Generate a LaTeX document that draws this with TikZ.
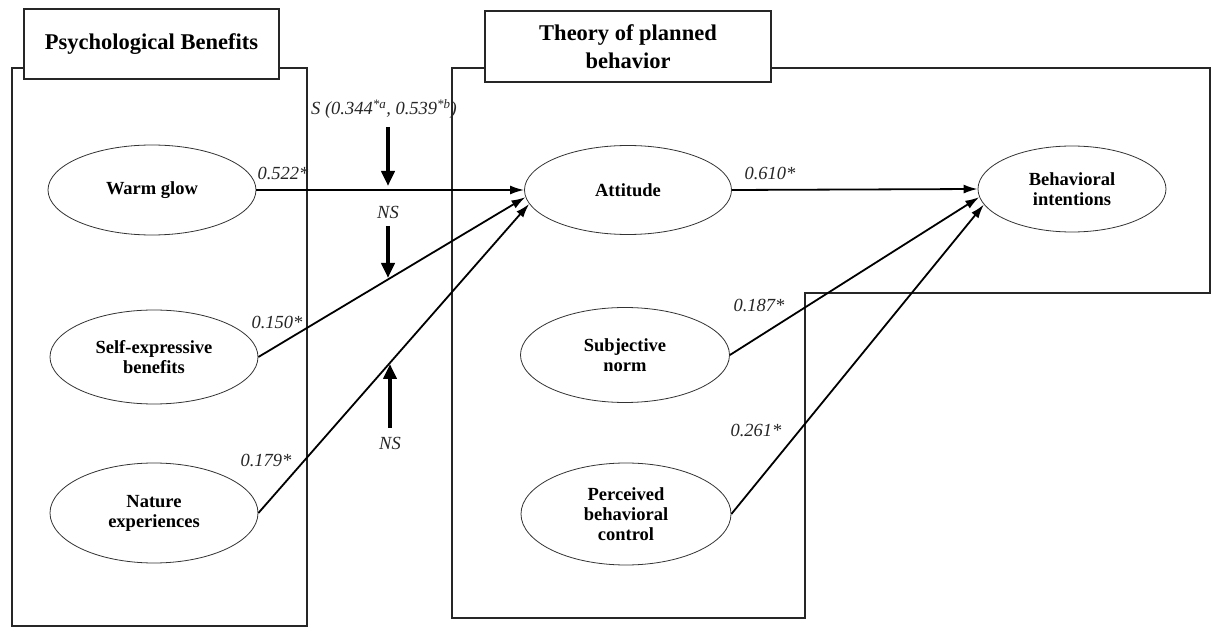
\documentclass[tikz,border=0pt]{standalone}
\usepackage{fontspec}
\setmainfont{Liberation Serif}
\usetikzlibrary{arrows.meta,shapes.geometric}
\begin{document}
\begin{tikzpicture}[x=1pt,y=-1pt,
  frame/.style={draw=black!85, line width=1.1pt},
  titlebox/.style={draw=black!85, line width=1.1pt, fill=white, align=center, inner sep=0pt,
    font=\fontsize{22.5}{28}\selectfont\bfseries},
  construct/.style={ellipse, draw=black!80, line width=0.8pt, inner sep=0pt, align=center,
    font=\fontsize{18.5}{20}\selectfont\bfseries},
  link/.style={line width=1.8pt, -{Latex[length=14pt,width=9pt]}},
  modarrow/.style={line width=3.8pt, -{Triangle[length=15pt,width=13pt]}},
  coef/.style={font=\fontsize{18.5}{20}\selectfont\itshape, text=black!85, inner sep=0pt},
]
\useasboundingbox (0,0) rectangle (1211,628);
\fill[white] (0,0) rectangle (1211,628);

% group frames
\draw[frame] (12,68) rectangle (307,626);
\draw[frame] (452,68) -- (1210,68) -- (1210,293) -- (805,293) -- (805,618) -- (452,618) -- cycle;

% title boxes
\node[titlebox, minimum width=255pt, minimum height=70pt] (pbt) at (151.5,44) {Psychological Benefits};
\node[titlebox, minimum width=286pt, minimum height=71pt] (tpbt) at (628,46.5) {Theory of planned\\behavior};

% constructs
\node[construct, minimum width=208pt, minimum height=90pt] (wg) at (152,190) {Warm glow};
\node[construct, minimum width=208pt, minimum height=94pt] (se) at (154,357) {Self-expressive\\benefits};
\node[construct, minimum width=208pt, minimum height=100pt] (ne) at (154,513) {Nature\\experiences};
\node[construct, minimum width=207pt, minimum height=89pt] (at) at (628,190) {Attitude};
\node[construct, minimum width=209pt, minimum height=95pt] (sn) at (625,355) {Subjective\\norm};
\node[construct, minimum width=210pt, minimum height=102pt] (pbc) at (626,514) {Perceived\\behavioral\\control};
\node[construct, minimum width=188pt, minimum height=86pt] (bi) at (1072,189) {Behavioral\\intentions};

% paths
\draw[link] (wg.east) -- (at.west);
\draw[link] (se.east) -- (at.184.5);
\draw[link] (ne.east) -- (at.188);
\draw[link] (at.east) -- (bi.west);
\draw[link] (sn.east) -- (bi.185);
\draw[link] (pbc.east) -- (bi.190);

% moderation arrows
\coordinate (m1s) at (388,127);
\coordinate (m1e) at (388,186);
\coordinate (m2s) at (388,226);
\coordinate (m2e) at (388,278);
\coordinate (m3s) at (390,428);
\coordinate (m3e) at (390,364);
\draw[modarrow] (m1s) -- (m1e);
\draw[modarrow] (m2s) -- (m2e);
\draw[modarrow] (m3s) -- (m3e);

% labels
\node[coef] (lS) at (384,109) {S (0.344\textsuperscript{*a}, 0.539\textsuperscript{*b})};
\node[coef] (lns1) at (388,212) {NS};
\node[coef] (lns2) at (390,443) {NS};
\node[coef] (l522) at (283,173) {0.522*};
\node[coef] (l150) at (277,322) {0.150*};
\node[coef] (l179) at (266,460) {0.179*};
\node[coef] (l610) at (770,173) {0.610*};
\node[coef] (l187) at (759,305) {0.187*};
\node[coef] (l261) at (756,430) {0.261*};
\end{tikzpicture}
\end{document}
